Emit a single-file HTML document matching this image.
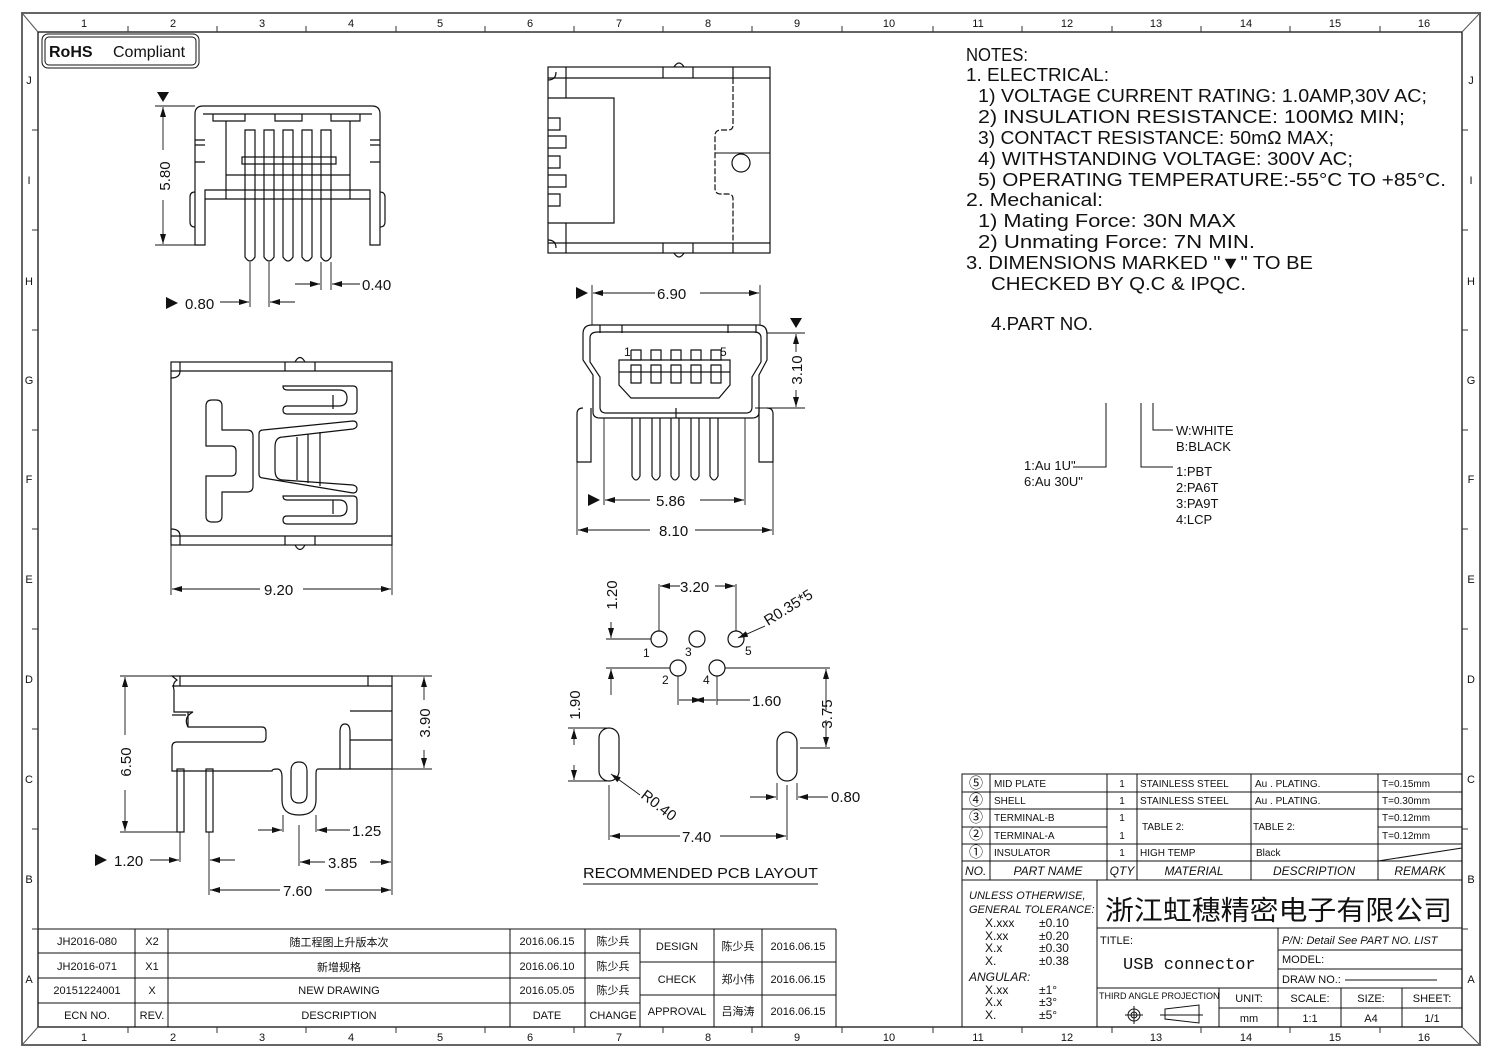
<!DOCTYPE html>
<html><head><meta charset="utf-8"><style>
html,body{margin:0;padding:0;background:#fff;}
svg{display:block;}
text{font-family:"Liberation Sans","Noto Sans CJK SC",sans-serif;fill:#111;}
</style></head><body>
<svg width="1502" height="1059" viewBox="0 0 1502 1059" xmlns="http://www.w3.org/2000/svg">
<defs>
<marker id="a" viewBox="0 0 10 6" refX="10" refY="3" markerWidth="10" markerHeight="6" orient="auto-start-reverse" markerUnits="userSpaceOnUse"><path d="M0,0 L10,3 L0,6 Z" fill="#111"/></marker>
</defs>
<rect width="1502" height="1059" fill="#fff"/>
<rect x="22" y="13" width="1458" height="1032" fill="none" stroke="#666" stroke-width="2"/>
<rect x="38" y="32" width="1424" height="995" fill="none" stroke="#111" stroke-width="1.3"/>
<g stroke="#555" stroke-width="1"><line x1="22" y1="13" x2="38" y2="32"/><line x1="1480" y1="13" x2="1462" y2="32"/><line x1="22" y1="1045" x2="38" y2="1027"/><line x1="1480" y1="1045" x2="1462" y2="1027"/></g>
<g font-size="11" text-anchor="middle" fill="#333">
<text x="84" y="27">1</text><text x="173" y="27">2</text><text x="262" y="27">3</text><text x="351" y="27">4</text><text x="440" y="27">5</text><text x="530" y="27">6</text><text x="619" y="27">7</text><text x="708" y="27">8</text><text x="797" y="27">9</text><text x="889" y="27">10</text><text x="978" y="27">11</text><text x="1067" y="27">12</text><text x="1156" y="27">13</text><text x="1246" y="27">14</text><text x="1335" y="27">15</text><text x="1424" y="27">16</text>
<text x="84" y="1041">1</text><text x="173" y="1041">2</text><text x="262" y="1041">3</text><text x="351" y="1041">4</text><text x="440" y="1041">5</text><text x="530" y="1041">6</text><text x="619" y="1041">7</text><text x="708" y="1041">8</text><text x="797" y="1041">9</text><text x="889" y="1041">10</text><text x="978" y="1041">11</text><text x="1067" y="1041">12</text><text x="1156" y="1041">13</text><text x="1246" y="1041">14</text><text x="1335" y="1041">15</text><text x="1424" y="1041">16</text>
<text x="29" y="84">J</text><text x="29" y="184">I</text><text x="29" y="285">H</text><text x="29" y="384">G</text><text x="29" y="483">F</text><text x="29" y="583">E</text><text x="29" y="683">D</text><text x="29" y="783">C</text><text x="29" y="883">B</text><text x="29" y="983">A</text>
<text x="1471" y="84">J</text><text x="1471" y="184">I</text><text x="1471" y="285">H</text><text x="1471" y="384">G</text><text x="1471" y="483">F</text><text x="1471" y="583">E</text><text x="1471" y="683">D</text><text x="1471" y="783">C</text><text x="1471" y="883">B</text><text x="1471" y="983">A</text>
</g>
<g stroke="#333" stroke-width="1">
<path d="M128,26v6M217,26v6M306,26v6M396,26v6M485,26v6M574,26v6M663,26v6M752,26v6M842,26v6M933,26v6M1022,26v6M1112,26v6M1201,26v6M1290,26v6M1380,26v6"/>
<path d="M128,1027v6M217,1027v6M306,1027v6M396,1027v6M485,1027v6M574,1027v6M663,1027v6M752,1027v6M842,1027v6M933,1027v6M1022,1027v6M1112,1027v6M1201,1027v6M1290,1027v6M1380,1027v6"/>
<path d="M32,130h6M32,230h6M32,330h6M32,430h6M32,529h6M32,629h6M32,729h6M32,829h6M32,929h6"/>
<path d="M1462,130h6M1462,230h6M1462,330h6M1462,430h6M1462,529h6M1462,629h6M1462,729h6M1462,829h6M1462,929h6"/>
</g>
<rect x="42" y="34" width="157" height="34" rx="6" fill="none" stroke="#111" stroke-width="1"/>
<rect x="45" y="37" width="151" height="28" rx="4" fill="none" stroke="#111" stroke-width="1"/>
<text x="49" y="57" font-size="16" font-weight="bold">RoHS</text><text x="113" y="57" font-size="16">Compliant</text>

<g fill="none" stroke="#111" stroke-width="1.2">
<path d="M195,245 V114 Q195,106 203,106 H372 Q380,106 380,114 V245 H370 V190 H205 V245 Z"/>
<path d="M203,114 H372 M213,114 V121 H245 V114 M275,114 V121 H302 V114 M331,114 V121 H360 V114 M226,121 V199 M350,121 V199 M205,199 H370"/>
<path d="M195,140 h10 M195,145 h10 M370,140 h10 M370,145 h10 M195,162 h10 M370,162 h10"/>
<path d="M195,192 q-5,0 -5,5 v25 q0,5 5,5 M380,192 q5,0 5,5 v25 q0,5 -5,5"/>
<path d="M245,130 h10 v127 q-5,8 -10,0 Z M264,130 h10 v127 q-5,8 -10,0 Z M283,130 h10 v127 q-5,8 -10,0 Z M302,130 h10 v127 q-5,8 -10,0 Z M321,130 h10 v127 q-5,8 -10,0 Z"/>
<path d="M242,157 h94 v7 h-94 Z"/>
<path d="M226,175 H350"/>
<rect x="548" y="67" width="222" height="186"/>
<path d="M548,78 H770 M548,243 H770 M566,67 V78 M566,243 V253 M663,67 V78 M693,67 V78 M663,243 V253 M693,243 V253 M733,67 V78 M733,243 V253"/>
<path d="M674,67 q5,-8 10,0 M674,253 q5,8 10,0"/>
<path d="M548,80 q8,0 8,-8 M548,240 q8,0 8,8 M566,78 V98 M566,223 V243"/>
<path d="M548,98 H614 V223 H548"/>
<path d="M548,118 h12 v12 h-12 M548,136 h18 v12 h-18 M548,156 h12 v12 h-12 M548,175 h18 v12 h-18 M548,194 h12 v12 h-12"/>
<path d="M733,78 V125 q0,5 -5,5 h-7 v-0 q-6,0 -6,6 V188 q0,6 6,6 h7 q5,0 5,5 V243" stroke-dasharray="6,2"/>
<path d="M715,153 H770 M770,78 V243" stroke-width="1"/>
<circle cx="741" cy="163" r="9"/>
<path d="M592,325 Q583,325 583,334 V360 L593,375 V412 Q593,418 600,418 H752 Q759,418 759,412 V375 L767,360 V334 Q767,325 758,325 Z"/>
<path d="M598,332 Q590,332 590,338 V362 L600,377 V407 Q600,413 606,413 H746 Q752,413 752,407 V377 L761,362 V338 Q761,332 754,332 Z"/>
<path d="M600,325 v8 M622,325 v8 M728,325 v8 M756,325 v8 M676,408 v10"/>
<path d="M619,360 H730 V385 L719,398 H631 L619,385 Z M619,372 H730"/>
<path d="M631,350 h10 v10 M641,365 v18 h-10 v-18 Z M651,350 h10 v10 h-10 Z M651,365 h10 v18 h-10 Z M671,350 h10 v10 h-10 Z M671,365 h10 v18 h-10 Z M691,350 h10 v10 h-10 Z M691,365 h10 v18 h-10 Z M711,350 h10 v10 h-10 Z M711,365 h10 v18 h-10 Z M631,350 v10 h10 M631,365 h10"/>
<path d="M632,418 v58 q4,8 8,0 v-58 M652,418 v58 q4,8 8,0 v-58 M671,418 v58 q4,8 8,0 v-58 M691,418 v58 q4,8 8,0 v-58 M710,418 v58 q4,8 8,0 v-58"/>
<path d="M583,408 q-6,0 -6,6 v48 h14 V408 M767,408 q6,0 6,6 v48 h-14 V408"/>
<rect x="171" y="362" width="221" height="183"/>
<path d="M171,371 H392 M171,536 H392 M180,362 V371 M285,362 V371 M315,362 V371 M180,536 V545 M285,536 V545 M315,536 V545"/>
<path d="M295,362 q5,-9 10,0 M295,545 q5,9 10,0 M171,378 q9,0 9,-7 M171,529 q9,0 9,7"/>
<path d="M206,406 q0,-6 6,-6 h4 q6,0 6,6 v24 h25 q6,0 6,6 v50 q0,6 -6,6 h-25 v24 q0,6 -6,6 h-4 q-6,0 -6,-6 v-24 h-0 v-16 h25 q5,0 5,-5 v-20 q0,-5 -5,-5 h-25 Z"/>
<path d="M287,386 h66 q4,0 4,4 v20 q0,4 -4,4 h-66 q-4,0 -4,-4 q0,-4 4,-4 h52 q8,0 8,-8 q0,-8 -8,-8 h-52 q-4,0 -4,-4 Z"/>
<path d="M287,496 h66 q4,0 4,4 v20 q0,4 -4,4 h-66 q-4,0 -4,-4 q0,-4 4,-4 h52 q8,0 8,-8 q0,-8 -8,-8 h-52 q-4,0 -4,-4 Z"/>
<path d="M263,430 L353,421 q4,0 4,4 q0,3 -4,4 L283,437 q-8,0 -8,10 V470 q0,10 8,10 L353,485 q4,1 4,4 q0,4 -4,4 L263,478 q-4,0 -4,-4 V434 q0,-4 4,-4 Z"/>
<path d="M297,437 v43 M308,434 v49 M320,432 v54 M333,395 v14 M333,500 v14"/>
<path d="M172,676 H392 V769 H318 q-2,0 -2,5 V800 q0,15 -17,15 q-17,0 -17,-15 V777 q0,-8 -5,-8 q-5,0 -5,2 H172 V747 q0,-5 5,-5 H262 q4,0 4,-5 V732 q0,-5 -4,-5 H188 q-5,-10 5,-15 H174 V690 q-2,-7 3,-10 Z"/>
<path d="M172,686 H392 M180,676 V686 M368,676 V686 M188,727 v-15 M172,715 H186"/>
<path d="M340,769 V732 q0,-8 5,-8 q5,0 5,8 V769 M350,711 H392 M350,740 H392"/>
<path d="M291,771 q0,-9 8,-9 q8,0 8,9 v23 q0,9 -8,9 q-8,0 -8,-9 Z"/>
<rect x="177" y="769" width="7" height="63"/><rect x="206" y="769" width="7" height="63"/>
<circle cx="659" cy="639" r="8"/><circle cx="697" cy="639" r="8"/><circle cx="736" cy="639" r="8"/><circle cx="678" cy="668" r="8"/><circle cx="717" cy="668" r="8"/>
<rect x="599" y="728" width="20" height="53" rx="10"/>
<rect x="777" y="732" width="20" height="49" rx="10"/>
</g>

<g fill="none" stroke="#111" stroke-width="0.9">
<path d="M155,106 H195 M155,245 H195"/>
<line x1="163" y1="150" x2="163" y2="107" marker-end="url(#a)"/><line x1="163" y1="200" x2="163" y2="244" marker-end="url(#a)"/>
<path d="M250,262 V307 M269,262 V307 M321,262 V290 M331,262 V290"/>
<line x1="220" y1="302" x2="249" y2="302" marker-end="url(#a)"/><line x1="295" y1="302" x2="270" y2="302" marker-end="url(#a)"/>
<line x1="295" y1="284" x2="320" y2="284" marker-end="url(#a)"/><line x1="360" y1="284" x2="332" y2="284" marker-end="url(#a)"/>
<path d="M592,285 V325 M760,285 V325"/>
<line x1="655" y1="293" x2="593" y2="293" marker-end="url(#a)"/><line x1="700" y1="293" x2="759" y2="293" marker-end="url(#a)"/>
<path d="M767,333 H805 M755,408 H805"/>
<line x1="796" y1="352" x2="796" y2="334" marker-end="url(#a)"/><line x1="796" y1="390" x2="796" y2="407" marker-end="url(#a)"/>
<path d="M604,418 V505 M745,418 V505 M577,462 V535 M773,462 V535"/>
<line x1="650" y1="500" x2="605" y2="500" marker-end="url(#a)"/><line x1="700" y1="500" x2="744" y2="500" marker-end="url(#a)"/>
<line x1="650" y1="530" x2="578" y2="530" marker-end="url(#a)"/><line x1="695" y1="530" x2="772" y2="530" marker-end="url(#a)"/>
<path d="M171,545 V595 M392,545 V595"/>
<line x1="260" y1="589" x2="172" y2="589" marker-end="url(#a)"/><line x1="303" y1="589" x2="391" y2="589" marker-end="url(#a)"/>
<path d="M120,676 H172 M120,832 H177 M392,676 H432 M392,769 H432 M180,832 V862 M209,832 V895 M283,815 V832 M316,815 V832 M299,825 V866 M392,769 V895"/>
<line x1="125" y1="735" x2="125" y2="677" marker-end="url(#a)"/><line x1="125" y1="790" x2="125" y2="831" marker-end="url(#a)"/>
<line x1="424" y1="700" x2="424" y2="677" marker-end="url(#a)"/><line x1="424" y1="750" x2="424" y2="768" marker-end="url(#a)"/>
<line x1="150" y1="860" x2="179" y2="860" marker-end="url(#a)"/><line x1="235" y1="860" x2="210" y2="860" marker-end="url(#a)"/>
<line x1="258" y1="830" x2="282" y2="830" marker-end="url(#a)"/><line x1="350" y1="830" x2="317" y2="830" marker-end="url(#a)"/>
<line x1="325" y1="862" x2="300" y2="862" marker-end="url(#a)"/><line x1="370" y1="862" x2="391" y2="862" marker-end="url(#a)"/>
<line x1="280" y1="890" x2="210" y2="890" marker-end="url(#a)"/><line x1="325" y1="890" x2="391" y2="890" marker-end="url(#a)"/>
<path d="M659,584 V631 M736,584 V631 M606,639 H651 M606,668 H670 M725,668 H830 M678,676 V705 M717,676 V705"/>
<line x1="680" y1="586" x2="660" y2="586" marker-end="url(#a)"/><line x1="715" y1="586" x2="735" y2="586" marker-end="url(#a)"/>
<line x1="611" y1="622" x2="611" y2="638" marker-end="url(#a)"/><line x1="611" y1="695" x2="611" y2="669" marker-end="url(#a)"/>
<line x1="679" y1="700" x2="702" y2="700" marker-end="url(#a)"/><line x1="716" y1="700" x2="694" y2="700" marker-end="url(#a)"/><line x1="717" y1="700" x2="750" y2="700"/>
<line x1="765" y1="626" x2="738" y2="638" marker-end="url(#a)"/>
<path d="M568,728 H610 M568,781 H610 M800,748 H830"/>
<line x1="574" y1="745" x2="574" y2="729" marker-end="url(#a)"/><line x1="574" y1="765" x2="574" y2="780" marker-end="url(#a)"/>
<line x1="826" y1="710" x2="826" y2="669" marker-end="url(#a)"/><line x1="826" y1="720" x2="826" y2="747" marker-end="url(#a)"/>
<line x1="640" y1="795" x2="611" y2="774" marker-end="url(#a)"/>
<path d="M609,785 V840 M787,785 V840 M777,783 V800 M797,783 V800"/>
<line x1="680" y1="836" x2="610" y2="836" marker-end="url(#a)"/><line x1="720" y1="836" x2="786" y2="836" marker-end="url(#a)"/>
<line x1="750" y1="797" x2="776" y2="797" marker-end="url(#a)"/><line x1="828" y1="797" x2="798" y2="797" marker-end="url(#a)"/>
<path d="M583,884 H818"/>
</g>
<g font-size="15">
<text transform="translate(170,176) rotate(-90)" text-anchor="middle">5.80</text>
<path d="M157,92 h12 l-6,10 Z" fill="#111"/>
<path d="M166,297 v12 l12,-6 Z" fill="#111"/><text x="185" y="309">0.80</text>
<text x="362" y="290">0.40</text>
<path d="M576,287 v12 l12,-6 Z" fill="#111"/><text x="657" y="299">6.90</text>
<path d="M790,318 h12 l-6,10 Z" fill="#111"/>
<text transform="translate(802,370) rotate(-90)" text-anchor="middle">3.10</text>
<path d="M588,494 v12 l12,-6 Z" fill="#111"/><text x="656" y="506">5.86</text>
<text x="659" y="536">8.10</text>
<text x="264" y="595">9.20</text>
<text transform="translate(131,762) rotate(-90)" text-anchor="middle">6.50</text>
<text transform="translate(430,723) rotate(-90)" text-anchor="middle">3.90</text>
<path d="M95,854 v12 l12,-6 Z" fill="#111"/><text x="114" y="866">1.20</text>
<text x="352" y="836">1.25</text>
<text x="328" y="868">3.85</text>
<text x="283" y="896">7.60</text>
<text x="680" y="592">3.20</text>
<text transform="translate(617,595) rotate(-90)" text-anchor="middle">1.20</text>
<text x="752" y="706">1.60</text>
<text transform="translate(832,714) rotate(-90)" text-anchor="middle">3.75</text>
<text transform="translate(580,705) rotate(-90)" text-anchor="middle">1.90</text>
<text transform="translate(768,626) rotate(-32)">R0.35*5</text>
<text transform="translate(640,797) rotate(38)">R0.40</text>
<text x="831" y="802">0.80</text>
<text x="682" y="842">7.40</text>
</g>
<g font-size="12"><text x="643" y="657">1</text><text x="685" y="656">3</text><text x="745" y="655">5</text><text x="662" y="684">2</text><text x="703" y="684">4</text>
<text x="624" y="356" font-size="12">1</text><text x="720" y="356" font-size="12">5</text></g>
<text x="583" y="878" font-size="15" textLength="235" lengthAdjust="spacingAndGlyphs">RECOMMENDED PCB LAYOUT</text>

<g font-size="18">
<text x="966" y="61" textLength="62" lengthAdjust="spacingAndGlyphs">NOTES:</text>
<text x="966" y="81" textLength="143" lengthAdjust="spacingAndGlyphs">1. ELECTRICAL:</text>
<text x="978" y="102" textLength="449" lengthAdjust="spacingAndGlyphs">1) VOLTAGE CURRENT RATING: 1.0AMP,30V AC;</text>
<text x="978" y="123" textLength="427" lengthAdjust="spacingAndGlyphs">2) INSULATION RESISTANCE: 100MΩ MIN;</text>
<text x="978" y="144" textLength="356" lengthAdjust="spacingAndGlyphs">3) CONTACT RESISTANCE: 50mΩ MAX;</text>
<text x="978" y="165" textLength="375" lengthAdjust="spacingAndGlyphs">4) WITHSTANDING VOLTAGE: 300V AC;</text>
<text x="978" y="186" textLength="468" lengthAdjust="spacingAndGlyphs">5) OPERATING TEMPERATURE:-55°C TO +85°C.</text>
<text x="966" y="206" textLength="137" lengthAdjust="spacingAndGlyphs">2. Mechanical:</text>
<text x="978" y="227" textLength="258" lengthAdjust="spacingAndGlyphs">1) Mating Force: 30N MAX</text>
<text x="978" y="248" textLength="277" lengthAdjust="spacingAndGlyphs">2) Unmating Force: 7N MIN.</text>
<text x="966" y="269" textLength="347" lengthAdjust="spacingAndGlyphs">3. DIMENSIONS MARKED "▼" TO BE</text>
<text x="991" y="290" textLength="255" lengthAdjust="spacingAndGlyphs">CHECKED BY Q.C &amp; IPQC.</text>
<text x="991" y="330" textLength="102" lengthAdjust="spacingAndGlyphs">4.PART NO.</text>
</g>
<g fill="none" stroke="#111" stroke-width="1"><path d="M1106,403 V467 H1073 M1141,403 V467 H1173 M1153,403 V430 H1173"/></g>
<g font-size="13">
<text x="1176" y="435">W:WHITE</text><text x="1176" y="451">B:BLACK</text>
<text x="1024" y="470">1:Au 1U"</text><text x="1024" y="486">6:Au 30U"</text>
<text x="1176" y="476">1:PBT</text><text x="1176" y="492">2:PA6T</text><text x="1176" y="508">3:PA9T</text><text x="1176" y="524">4:LCP</text>
</g>

<g fill="none" stroke="#111" stroke-width="1">
<rect x="962" y="774" width="500" height="106"/>
<path d="M962,792 H1462 M962,809 H1462 M962,827 H1107 M1378,827 H1462 M962,844 H1462 M962,861 H1462 M990,774 V880 M1107,774 V880 M1137,774 V880 M1251,774 V880 M1378,774 V880 M1378,861 L1462,848"/>
<path d="M962,880 V1027 M1097,880 V1027 M1097,928 H1462 M1097,988 H1462 M1278,928 V1027 M1278,950 H1462 M1278,969 H1462 M1219,988 V1027 M1341,988 V1027 M1402,988 V1027 M1219,1008 H1462"/>
<path d="M1345,980 H1437"/>
<circle cx="1134" cy="1015" r="6"/><circle cx="1134" cy="1015" r="3"/><path d="M1125,1015 H1143 M1134,1006 V1024"/>
<path d="M1165,1009 L1199,1005 V1023 L1165,1019 Z M1160,1015 H1203"/>
</g>
<g font-size="10">
<text x="976" y="788" text-anchor="middle" font-size="14">⑤</text><text x="976" y="805" text-anchor="middle" font-size="14">④</text><text x="976" y="822" text-anchor="middle" font-size="14">③</text><text x="976" y="839" text-anchor="middle" font-size="14">②</text><text x="976" y="857" text-anchor="middle" font-size="14">①</text>
<text x="994" y="787">MID PLATE</text><text x="994" y="804">SHELL</text><text x="994" y="821">TERMINAL-B</text><text x="994" y="839">TERMINAL-A</text><text x="994" y="856">INSULATOR</text>
<text x="1122" y="787" text-anchor="middle">1</text><text x="1122" y="804" text-anchor="middle">1</text><text x="1122" y="821" text-anchor="middle">1</text><text x="1122" y="839" text-anchor="middle">1</text><text x="1122" y="856" text-anchor="middle">1</text>
<text x="1140" y="787">STAINLESS STEEL</text><text x="1140" y="804">STAINLESS STEEL</text><text x="1142" y="830">TABLE 2:</text><text x="1140" y="856">HIGH TEMP</text>
<text x="1255" y="787">Au . PLATING.</text><text x="1255" y="804">Au . PLATING.</text><text x="1253" y="830">TABLE 2:</text><text x="1256" y="856">Black</text>
<text x="1382" y="787">T=0.15mm</text><text x="1382" y="804">T=0.30mm</text><text x="1382" y="821">T=0.12mm</text><text x="1382" y="839">T=0.12mm</text>
</g>
<g font-size="12" font-style="italic">
<text x="965" y="875">NO.</text><text x="1048" y="875" text-anchor="middle">PART NAME</text><text x="1122" y="875" text-anchor="middle">QTY</text><text x="1194" y="875" text-anchor="middle">MATERIAL</text><text x="1314" y="875" text-anchor="middle">DESCRIPTION</text><text x="1420" y="875" text-anchor="middle">REMARK</text>
<text x="969" y="899" font-size="11">UNLESS OTHERWISE,</text><text x="969" y="913" font-size="11">GENERAL TOLERANCE:</text>
<text x="969" y="981">ANGULAR:</text>
</g>
<g font-size="12">
<text x="985" y="927">X.xxx</text><text x="1039" y="927">±0.10</text>
<text x="985" y="940">X.xx</text><text x="1039" y="940">±0.20</text>
<text x="985" y="952">X.x</text><text x="1039" y="952">±0.30</text>
<text x="985" y="965">X.</text><text x="1039" y="965">±0.38</text>
<text x="985" y="994">X.xx</text><text x="1039" y="994">±1°</text>
<text x="985" y="1006">X.x</text><text x="1039" y="1006">±3°</text>
<text x="985" y="1019">X.</text><text x="1039" y="1019">±5°</text>
</g>
<text x="1105" y="920" font-size="27" font-family="Noto Serif CJK SC, serif" textLength="347" lengthAdjust="spacingAndGlyphs">浙江虹穗精密电子有限公司</text>
<text x="1100" y="944" font-size="11">TITLE:</text>
<text x="1123" y="969" font-size="17" style="font-family:'Liberation Mono',monospace">USB connector</text>
<text x="1282" y="944" font-size="11" font-style="italic">P/N: Detail See PART NO. LIST</text>
<text x="1282" y="963" font-size="11">MODEL:</text>
<text x="1282" y="983" font-size="11">DRAW NO.:</text>
<text x="1099" y="999" font-size="9">THIRD ANGLE PROJECTION</text>
<g font-size="11" text-anchor="middle">
<text x="1249" y="1002">UNIT:</text><text x="1310" y="1002">SCALE:</text><text x="1371" y="1002">SIZE:</text><text x="1432" y="1002">SHEET:</text>
<text x="1249" y="1022">mm</text><text x="1310" y="1022">1:1</text><text x="1371" y="1022">A4</text><text x="1432" y="1022">1/1</text>
</g>

<g fill="none" stroke="#111" stroke-width="1">
<path d="M38,929 H836 M38,953 H640 M38,978 H640 M38,1003 H640 M640,962 H836 M640,995 H836 M836,929 V1027 M135,929 V1027 M168,929 V1027 M510,929 V1027 M585,929 V1027 M640,929 V1027 M714,929 V1027 M762,929 V1027"/>
</g>
<g font-size="11" text-anchor="middle">
<text x="87" y="945">JH2016-080</text><text x="152" y="945">X2</text><text x="339" y="946">随工程图上升版本次</text><text x="547" y="945">2016.06.15</text><text x="613" y="945">陈少兵</text>
<text x="87" y="970">JH2016-071</text><text x="152" y="970">X1</text><text x="339" y="971">新增规格</text><text x="547" y="970">2016.06.10</text><text x="613" y="970">陈少兵</text>
<text x="87" y="994">20151224001</text><text x="152" y="994">X</text><text x="339" y="994">NEW DRAWING</text><text x="547" y="994">2016.05.05</text><text x="613" y="994">陈少兵</text>
<text x="87" y="1019">ECN NO.</text><text x="152" y="1019">REV.</text><text x="339" y="1019">DESCRIPTION</text><text x="547" y="1019">DATE</text><text x="613" y="1019">CHANGE</text>
<text x="677" y="950">DESIGN</text><text x="738" y="950">陈少兵</text><text x="798" y="950">2016.06.15</text>
<text x="677" y="983">CHECK</text><text x="738" y="983">郑小伟</text><text x="798" y="983">2016.06.15</text>
<text x="677" y="1015">APPROVAL</text><text x="738" y="1015">吕海涛</text><text x="798" y="1015">2016.06.15</text>
</g>
</svg>
</body></html>
